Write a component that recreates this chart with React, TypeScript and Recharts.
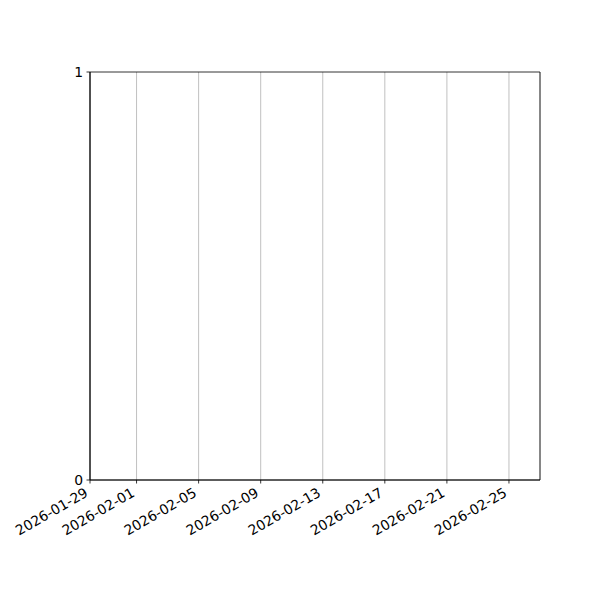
import React from 'react';
import { LineChart, Line, XAxis, YAxis, CartesianGrid, ReferenceArea } from 'recharts';

// empty date plot: only the axis range and ticks are known
const rangeDates = ['2026-01-29', '2026-02-27'];
const seriesValues: (number | null)[] = [null, null];
const tickDates = ['2026-01-29', '2026-02-01', '2026-02-05', '2026-02-09', '2026-02-13', '2026-02-17', '2026-02-21', '2026-02-25'];
const yTicks = [0, 1];

const toTime = (d: string) => Date.parse(d + 'T00:00:00Z');
const fmtDate = (t: number) => new Date(t).toISOString().slice(0, 10);

const data = rangeDates.map((d, i) => ({ t: toTime(d), value: seriesValues[i] }));
const xDomain = [toTime(rangeDates[0]), toTime(rangeDates[1])];

const FONT = "'DejaVu Sans', sans-serif";
const AXIS = { stroke: '#000', strokeWidth: 0.8 };

const DateTick = (props: any) => {
  const { x, y, payload } = props;
  const ax = x - 1;
  const ay = y + 12;
  return (
    <text x={ax} y={ay} transform={`rotate(-30, ${ax}, ${ay})`} textAnchor="end"
      fontFamily={FONT} fontSize={13.9} fill="#000">
      {fmtDate(payload.value)}
    </text>
  );
};

const App = () => {
  return (
    <div style={{ position: 'absolute', left: 0, top: 0, width: 600, height: 600, background: '#fff' }}>
      <LineChart width={600} height={600} data={data} margin={{ top: 72, right: 60, left: 0, bottom: 0 }}>
        <CartesianGrid horizontal={false} stroke="#b0b0b0" strokeWidth={0.8} />
        <XAxis dataKey="t" type="number" scale="linear" domain={xDomain}
          ticks={tickDates.map(toTime)} interval={0} height={120}
          axisLine={AXIS} tickLine={AXIS}
          tickSize={3.5} tickMargin={0} tick={<DateTick />} allowDataOverflow />
        <YAxis type="number" domain={[0, 1]} ticks={yTicks} width={90} interval={0}
          axisLine={AXIS} tickLine={AXIS}
          tickSize={3.5} tickMargin={3.5} allowDataOverflow
          tick={{ fill: '#000', fontFamily: FONT, fontSize: 13.9 }} />
        {/* axes frame (top and right spines) */}
        <ReferenceArea x1={xDomain[0]} x2={xDomain[1]} y1={0} y2={1}
          fill="none" fillOpacity={0} stroke="#000" strokeWidth={0.8} ifOverflow="visible" />
        <Line dataKey="value" stroke="#1f77b4" dot={false} isAnimationActive={false} connectNulls={false} />
      </LineChart>
    </div>
  );
};

export default App;
